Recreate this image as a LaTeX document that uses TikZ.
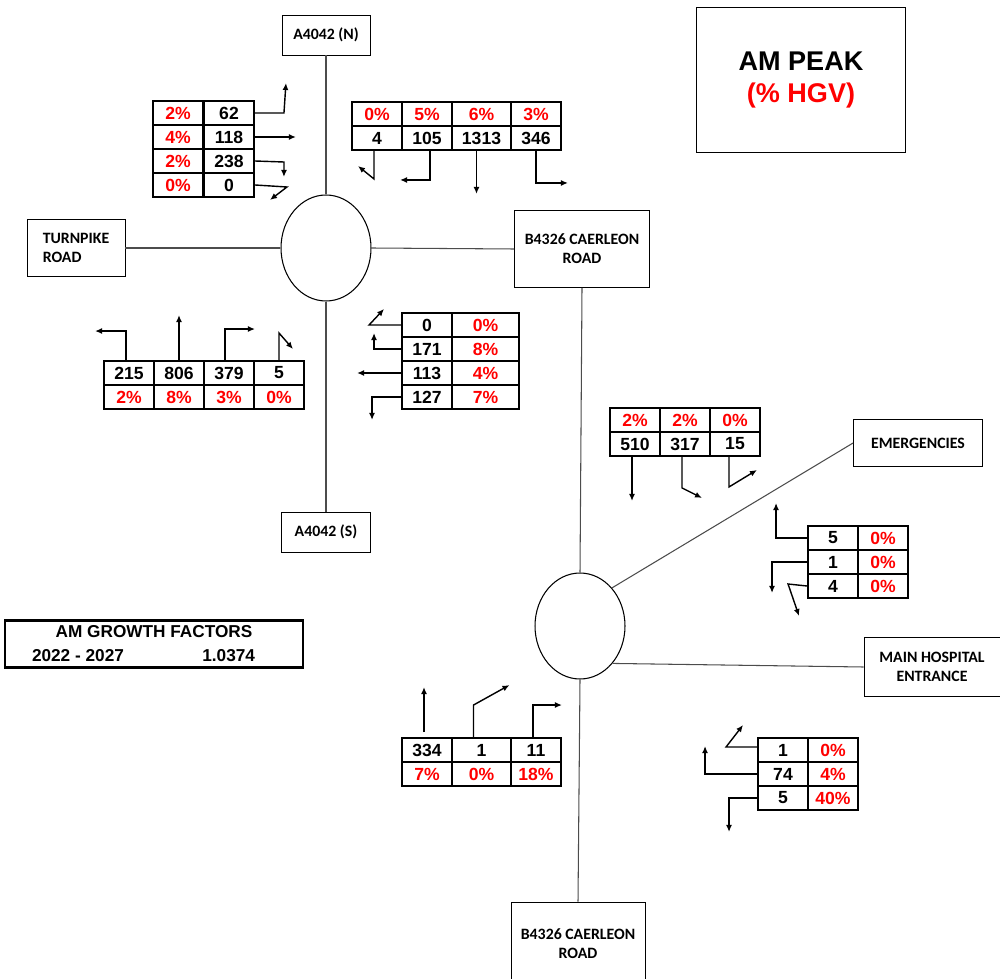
\documentclass[tikz,border=0pt]{standalone}
\usepackage{fontspec}
\setmainfont{Liberation Sans}
\newfontfamily\roadfont{Carlito}
\usetikzlibrary{positioning,arrows.meta,shapes.geometric}
\tikzstyle{tips}=[%
	 btip/.tip = {Latex[length=4, width=3.4]},
	 -btip]

\begin{document}
\begin{tikzpicture}[x=0.02cm, y=-0.02cm]
			\tikzstyle{cell}=[draw, line width=1.1pt, minimum width=1cm, minimum height=0.48cm, inner sep=0pt, font=\fontsize{10}{11}\selectfont\bfseries]
			\tikzstyle{pc}=[cell, text=red]
			\tikzstyle{road}=[draw, line width=0.5pt, align=center, font=\fontsize{9}{10.8}\selectfont\roadfont\bfseries]
			\tikzstyle{rbt}=[draw, ellipse, line width=0.6pt, minimum width=1.8cm, minimum height=2.12cm, inner sep=0pt]
			\tikzstyle{link}=[draw=black!70, line width=0.6pt]
			\tikzstyle{move}=[tips, line width=0.8pt]
			\useasboundingbox (0,0) rectangle (1000,979);
			% roads and roundabouts
			\node[road, minimum width=1.76cm, minimum height=0.8cm] (a4042n) at (326,35) {A4042 (N)};
			\node[road, minimum width=1.78cm, minimum height=0.8cm] (a4042s) at (326,532) {A4042 (S)};
			\node[road, align=left, minimum width=1.96cm, minimum height=1.14cm] (turnpike) at (76,248) {TURNPIKE\\ROAD};
			\node[road, minimum width=2.7cm, minimum height=1.54cm] (caerleonn) at (582,249) {B4326 CAERLEON\\ROAD};
			\node[road, minimum width=2.68cm, minimum height=1.68cm] (caerleons) at (578,944) {B4326 CAERLEON\\ROAD};
			\node[road, minimum width=2.58cm, minimum height=0.94cm] (emerg) at (918,443) {EMERGENCIES};
			\node[road, minimum width=2.72cm, minimum height=1.18cm] (hospital) at (932,667) {MAIN HOSPITAL\\ENTRANCE};
			\node[rbt] (rbn) at (326,248) {};
			\node[rbt] (rbs) at (580,626) {};
			\draw[link] (a4042n.south) -- (rbn.north);
			\draw[link] (rbn.south) -- (a4042s.north);
			\draw[link] (turnpike.east) -- (rbn.west);
			\draw[link] (rbn.east) -- (caerleonn.west);
			\draw[link] (caerleonn.south) -- (rbs.north);
			\draw[link] (rbs.south) -- (caerleons.north);
			\draw[link] (rbs.50) -- (emerg.west);
			\draw[link] (rbs.-49) -- (hospital.west);
			% titles
			\node[draw, line width=0.5pt, minimum width=4.18cm, minimum height=2.9cm, align=center, font=\fontsize{15.4}{18.7}\selectfont\bfseries] (peak) at (801,80) {AM PEAK\\\textcolor{red}{(\% HGV)}};
			\node[draw, line width=1.2pt, minimum width=5.96cm, minimum height=0.94cm, inner sep=0pt, align=center, font=\fontsize{9.8}{13.6}\selectfont\bfseries] (growth) at (154,644) {AM GROWTH FACTORS\\\makebox[4.88cm][l]{2022 - 2027\hfill 1.0374\hspace{0.42cm}}};
			% A4042 (N) approach
			\foreach \p/\n [count=\i] in {2\%/62, 4\%/118, 2\%/238, 0\%/0} {
				\node[pc] (tlp\i) at (178, 89+24*\i) {\p};
				\node[cell] (tln\i) at (229, 89+24*\i) {\n};
			}
			\draw[move] (tln1.east) -- ++(29,0) -- ++(2,-30);
			\draw[move] (tln2.east) -- ++(41,0);
			\draw[move] (tln3.east) -- ++(29,1) -- ++(0,15);
			\draw[move] (tln4.east) -- ++(32,2) -- ++(-17,13);
			% Caerleon Road (N) approach
			\foreach \p/\n/\x/\w [count=\i] in {0\%/4/377/1, 5\%/105/427/1, 6\%/1313/481.5/1.18, 3\%/346/536/1} {
				\node[pc, minimum width=\w cm] (tmp\i) at (\x,114) {\p};
				\node[cell, minimum width=\w cm] (tmn\i) at (\x,138) {\n};
			}
			\draw[move] ([shift={(-3,0)}]tmn1.south) -- ++(0,28) -- ++(-16,-13);
			\draw[move] ([shift={(3,0)}]tmn2.south) -- ++(0,29) -- ++(-30,0);
			\draw[move] ([shift={(-5,0)}]tmn3.south) -- ++(0,43);
			\draw[move] (tmn4.south) -- ++(0,32) -- ++(32,0);
			% Turnpike Road approach
			\foreach \n/\p [count=\i] in {215/2\%, 806/8\%, 379/3\%, 5/0\%} {
				\node[cell] (bln\i) at (79+50*\i, 373) {\n};
				\node[pc] (blp\i) at (79+50*\i, 397) {\p};
			}
			\draw[move] ([shift={(-3,0)}]bln1.north) -- ++(0,-29) -- ++(-31,0);
			\draw[move] (bln2.north) -- ++(0,-45);
			\draw[move] ([shift={(-4,0)}]bln3.north) -- ++(0,-31) -- ++(30,0);
			\draw[move] (bln4.north) -- ++(0,-27) -- ++(14,16);
			% A4042 (S) approach
			\foreach \n/\p [count=\i] in {0/0\%, 171/8\%, 113/4\%, 127/7\%} {
				\node[cell] (bmn\i) at (427, 301+24*\i) {\n};
				\node[pc, minimum width=1.34cm] (bmp\i) at (485.5, 301+24*\i) {\p};
			}
			\draw[move] (bmn1.west) -- ++(-32,0) -- ++(15,-16);
			\draw[move] (bmn2.west) -- ++(-27,0) -- ++(0,-16);
			\draw[move] (bmn3.west) -- ++(-44,0);
			\draw[move] (bmn4.west) -- ++(-29,0) -- ++(0,23);
			% hospital roundabout
			\foreach \p/\n [count=\i] in {2\%/510, 2\%/317, 0\%/15} {
				\node[pc] (r1p\i) at (585+50*\i, 420) {\p};
				\node[cell] (r1n\i) at (585+50*\i, 444) {\n};
			}
			\draw[move] ([shift={(-3,0)}]r1n1.south) -- ++(0,44);
			\draw[move] ([shift={(-3,0)}]r1n2.south) -- ++(0,31) -- ++(20,10);
			\draw[move] ([shift={(-6,0)}]r1n3.south) -- ++(0,30) -- ++(28,-17);
			\foreach \n/\p [count=\i] in {5/0\%, 1/0\%, 4/0\%} {
				\node[cell] (r2n\i) at (833, 514+24*\i) {\n};
				\node[pc] (r2p\i) at (883, 514+24*\i) {\p};
			}
			\draw[move] (r2n1.west) -- ++(-31,0) -- ++(0,-35);
			\draw[move] (r2n2.west) -- ++(-35,0) -- ++(0,31);
			\draw[move] (r2n3.west) -- ++(-19,-2) -- ++(11,32);
			\foreach \n/\p/\x/\w [count=\i] in {334/7\%/427/1, 1/0\%/481.5/1.18, 11/18\%/536/1} {
				\node[cell, minimum width=\w cm] (bcn\i) at (\x,750) {\n};
				\node[pc, minimum width=\w cm] (bcp\i) at (\x,774) {\p};
			}
			\draw[move] ([shift={(-3,-5)}]bcn1.north) -- ++(0,-45);
			\draw[move] ([shift={(-8,0)}]bcn2.north) -- ++(0,-32) -- ++(36,-20);
			\draw[move] ([shift={(-3,0)}]bcn3.north) -- ++(0,-32) -- ++(29,0);
			\foreach \n/\p [count=\i] in {1/0\%, 74/4\%, 5/40\%} {
				\node[cell] (brn\i) at (783, 726+24*\i) {\n};
				\node[pc] (brp\i) at (833, 726+24*\i) {\p};
			}
			\draw[move] ([shift={(0,-3)}]brn1.west) -- ++(-31,0) -- ++(17,-22);
			\draw[move] (brn2.west) -- ++(-52,0) -- ++(0,-28);
			\draw[move] (brn3.west) -- ++(-28,0) -- ++(0,34);
		\end{tikzpicture}
\end{document}
